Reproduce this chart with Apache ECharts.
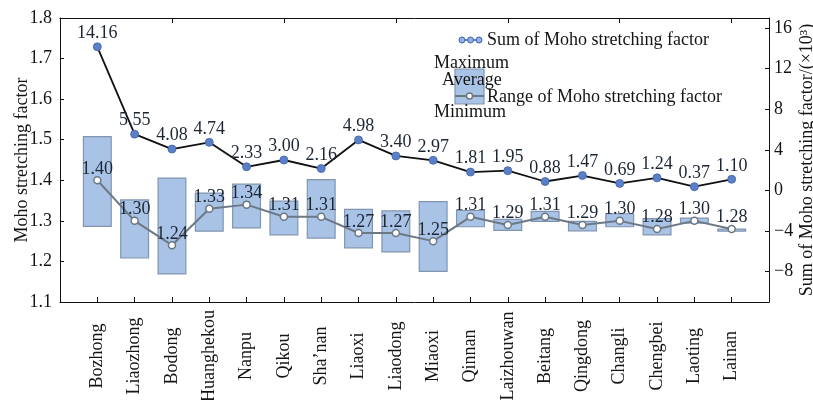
<!DOCTYPE html>
<html>
<head>
<meta charset="utf-8">
<script src="https://cdn.jsdelivr.net/npm/echarts@6.0.0/dist/echarts.min.js"></script>
<style>
  html, body { margin: 0; padding: 0; background: #fff; }
  #chart { width: 813px; height: 400px; }
</style>
</head>
<body>
<div id="chart"></div>
<script>
// Sags / depressions of the Bohai Bay basin
const categories = ['Bozhong', 'Liaozhong', 'Bodong', 'Huanghekou', 'Nanpu', 'Qikou', 'Sha’nan', 'Liaoxi', 'Liaodong',
  'Miaoxi', 'Qinnan', 'Laizhouwan', 'Beitang', 'Qingdong', 'Changli', 'Chengbei', 'Laoting', 'Lainan'];

// Moho stretching factor range (left axis)
const maxValues = [1.509, 1.353, 1.407, 1.370, 1.392, 1.350, 1.403, 1.330, 1.326, 1.349, 1.327, 1.305, 1.325, 1.300, 1.319, 1.307, 1.308, 1.281];
const minValues = [1.285, 1.207, 1.168, 1.273, 1.281, 1.264, 1.256, 1.232, 1.222, 1.174, 1.284, 1.275, 1.297, 1.274, 1.284, 1.264, 1.293, 1.273];
const avgValues = [1.40, 1.30, 1.24, 1.33, 1.34, 1.31, 1.31, 1.27, 1.27, 1.25, 1.31, 1.29, 1.31, 1.29, 1.30, 1.28, 1.30, 1.28];

// Sum of Moho stretching factor, ×10³ (right axis)
const sumValues = [14.16, 5.55, 4.08, 4.74, 2.33, 3.00, 2.16, 4.98, 3.40, 2.97, 1.81, 1.95, 0.88, 1.47, 0.69, 1.24, 0.37, 1.10];

// Right axis tick labels
const rightTicks = [-8, -4, 0, 4, 8, 12, 16];

// one empty slot at each end keeps a gap between the axes and the first/last sag
const pad = arr => [null, ...arr, null];
const axisCats = ['', ...categories, ''];

const FONT = '"Liberation Serif", "Times New Roman", serif';
const TEXT = '#141414';
const BAR_FILL = '#a9c3e7';
const BAR_EDGE = '#8195b0';
const AVG_LINE = '#6c7884';
const SUM_DOT = '#5b80c8';

const two = p => (p.value == null ? '' : Number(p.value).toFixed(2));
const minus = v => (v < 0 ? '\u2212' + (-v) : String(v));

const chart = echarts.init(document.getElementById('chart'), null, { renderer: 'canvas' });

const axisLineStyle = { onZero: false, lineStyle: { color: '#111', width: 1 } };

chart.setOption({
  animation: false,
  backgroundColor: '#fff',
  textStyle: { fontFamily: FONT },
  grid: { left: 60, right: 44, top: 18, bottom: 98, containLabel: false, outerBoundsMode: 'none' },
  xAxis: [
    {
      type: 'category',
      data: axisCats,
      boundaryGap: false,
      axisLine: axisLineStyle,
      axisTick: { inside: true, length: 5, lineStyle: { color: '#111' } },
      axisLabel: {
        interval: 0, rotate: 90, align: 'center', verticalAlign: 'middle', margin: 54,
        fontSize: 18, color: TEXT, fontFamily: FONT
      },
      splitLine: { show: false }
    },
    {
      type: 'category',
      position: 'top',
      data: axisCats,
      boundaryGap: false,
      axisLine: axisLineStyle,
      axisTick: { inside: true, length: 5, lineStyle: { color: '#111' } },
      axisLabel: { show: false },
      splitLine: { show: false }
    }
  ],
  yAxis: [
    {
      type: 'value',
      min: 1.1, max: 1.8, interval: 0.1,
      name: 'Moho stretching factor',
      nameLocation: 'middle',
      nameGap: 29,
      nameMoveOverlap: false,
      nameTextStyle: { fontSize: 18, color: TEXT, fontFamily: FONT },
      axisLine: { show: true, onZero: false, lineStyle: { color: '#111', width: 1 } },
      axisTick: { show: true, inside: true, length: 4, lineStyle: { color: '#111' } },
      axisLabel: { fontSize: 18, color: TEXT, fontFamily: FONT, margin: 8, formatter: v => v.toFixed(1) },
      splitLine: { show: false }
    },
    {
      type: 'value',
      position: 'right',
      min: -11, max: 17,
      name: 'Sum of Moho stretching factor/(\u00d710\u00b3)',
      nameLocation: 'middle',
      nameRotate: 90,
      nameGap: 29,
      nameMoveOverlap: false,
      nameTextStyle: { fontSize: 18, color: TEXT, fontFamily: FONT },
      axisLine: { show: true, onZero: false, lineStyle: { color: '#111', width: 1 } },
      axisTick: { show: true, inside: true, length: 4, customValues: rightTicks, lineStyle: { color: '#111' } },
      axisLabel: { fontSize: 18, color: TEXT, fontFamily: FONT, margin: 5, customValues: rightTicks, formatter: minus },
      splitLine: { show: false }
    }
  ],
  series: [
    {
      // invisible base so the range bar floats from the minimum
      type: 'bar',
      stack: 'range',
      barWidth: 29,
      silent: true,
      itemStyle: { color: 'transparent' },
      data: pad(minValues)
    },
    {
      type: 'bar',
      stack: 'range',
      barWidth: 29,
      itemStyle: { color: BAR_FILL, borderColor: BAR_EDGE, borderWidth: 1.2 },
      data: pad(maxValues.map((v, i) => +(v - minValues[i]).toFixed(4)))
    },
    {
      type: 'line',
      yAxisIndex: 0,
      z: 3,
      data: pad(avgValues),
      symbol: 'circle',
      symbolSize: 7,
      lineStyle: { color: AVG_LINE, width: 2 },
      itemStyle: { color: '#fff', borderColor: AVG_LINE, borderWidth: 1.5 },
      label: { show: true, position: 'top', distance: -2, fontSize: 18, color: '#1c2633', fontFamily: FONT, formatter: two }
    },
    {
      type: 'line',
      yAxisIndex: 1,
      z: 4,
      data: pad(sumValues),
      symbol: 'circle',
      symbolSize: 8,
      lineStyle: { color: '#111', width: 1.8 },
      itemStyle: { color: SUM_DOT, borderColor: '#3f62a8', borderWidth: 0.8 },
      label: { show: true, position: 'top', distance: 0, fontSize: 18, color: '#1c2633', fontFamily: FONT, formatter: two }
    }
  ],
  graphic: [
    // legend: sum line
    { type: 'line', shape: { x1: 459, y1: 40, x2: 482, y2: 40 }, style: { stroke: '#3f62a8', lineWidth: 1.5 } },
    { type: 'circle', shape: { cx: 462, cy: 40, r: 3 }, style: { fill: '#8fb0e8', stroke: '#3f62a8', lineWidth: 1 } },
    { type: 'circle', shape: { cx: 470.5, cy: 40, r: 3 }, style: { fill: '#8fb0e8', stroke: '#3f62a8', lineWidth: 1 } },
    { type: 'circle', shape: { cx: 479, cy: 40, r: 3 }, style: { fill: '#8fb0e8', stroke: '#3f62a8', lineWidth: 1 } },
    { type: 'text', style: { x: 487, y: 40, text: 'Sum of Moho stretching factor', fontSize: 18, fontFamily: FONT, fill: TEXT, verticalAlign: 'middle' } },
    // legend: range box
    { type: 'rect', shape: { x: 455, y: 69, width: 29, height: 35 }, style: { fill: BAR_FILL, stroke: BAR_EDGE, lineWidth: 1.2 } },
    { type: 'line', shape: { x1: 455, y1: 96, x2: 484, y2: 96 }, style: { stroke: AVG_LINE, lineWidth: 2 } },
    { type: 'circle', shape: { cx: 469.5, cy: 96, r: 3 }, style: { fill: '#fff', stroke: AVG_LINE, lineWidth: 1.5 } },
    { type: 'text', style: { x: 434, y: 63, text: 'Maximum', fontSize: 18, fontFamily: FONT, fill: TEXT, verticalAlign: 'middle' } },
    { type: 'text', style: { x: 442, y: 80, text: 'Average', fontSize: 18, fontFamily: FONT, fill: TEXT, verticalAlign: 'middle' } },
    { type: 'text', style: { x: 487, y: 97, text: 'Range of Moho stretching factor', fontSize: 18, fontFamily: FONT, fill: TEXT, verticalAlign: 'middle' } },
    { type: 'text', style: { x: 434, y: 112, text: 'Minimum', fontSize: 18, fontFamily: FONT, fill: TEXT, verticalAlign: 'middle' } }
  ]
});
</script>
</body>
</html>
